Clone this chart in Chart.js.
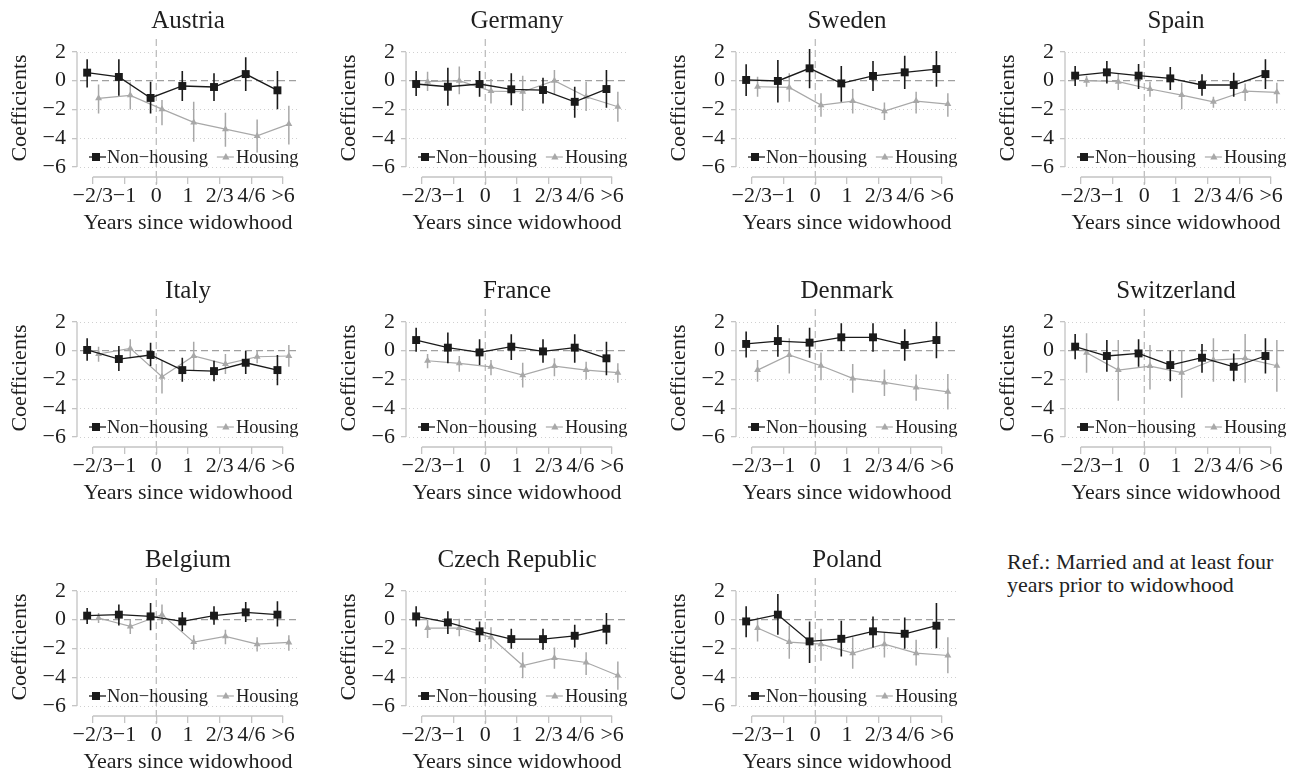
<!DOCTYPE html>
<html>
<head>
<meta charset="utf-8">
<title>Widowhood coefficients by country</title>
<script src="https://cdn.jsdelivr.net/npm/chart.js@4/dist/chart.umd.min.js"></script>
<style>
  html, body { margin: 0; padding: 0; background: #fff; }
  body { width: 1297px; height: 773px; position: relative; overflow: hidden; font-family: "Liberation Serif", "Times New Roman", serif; }
  .panel { position: absolute; width: 329px; height: 234px; }
  .note { position: absolute; left: 1007px; top: 550px; font-size: 22px; line-height: 23px; color: #222; }
</style>
</head>
<body>
<div id="panels"></div>
<div class="note">Ref.: Married and at least four<br>years prior to widowhood</div>
<script>
var countries = ["Austria", "Germany", "Sweden", "Spain", "Italy", "France", "Denmark", "Switzerland", "Belgium", "Czech Republic", "Poland"];
var xLabels = ["\u22122/3", "\u22121", "0", "1", "2/3", "4/6", ">6"];
var yTicks = [2, 0, -2, -4, -6];
var seriesNames = ["Non\u2212housing", "Housing"];

// point estimates, one row per country (same order as countries)
var nonHousing = [
  [0.56, 0.26, -1.2, -0.37, -0.44, 0.46, -0.67],
  [-0.23, -0.42, -0.23, -0.6, -0.65, -1.47, -0.58],
  [0.05, -0.02, 0.86, -0.19, 0.33, 0.58, 0.81],
  [0.35, 0.58, 0.35, 0.16, -0.3, -0.3, 0.46],
  [0.05, -0.58, -0.3, -1.35, -1.42, -0.84, -1.35],
  [0.74, 0.21, -0.12, 0.28, -0.05, 0.21, -0.53],
  [0.47, 0.67, 0.56, 0.93, 0.93, 0.4, 0.74],
  [0.28, -0.37, -0.19, -1.0, -0.49, -1.12, -0.37],
  [0.28, 0.35, 0.23, -0.12, 0.28, 0.51, 0.35],
  [0.23, -0.19, -0.81, -1.35, -1.35, -1.12, -0.63],
  [-0.12, 0.35, -1.51, -1.33, -0.81, -0.98, -0.42]
];
var nonHousingLow = [
  [-0.47, -1.05, -2.28, -1.42, -1.42, -0.72, -1.98],
  [-1.07, -1.74, -1.12, -1.7, -1.58, -2.58, -1.88],
  [-1.07, -1.51, -0.53, -1.47, -0.72, -0.58, -0.42],
  [-0.37, -0.19, -0.58, -0.65, -1.05, -1.12, -0.58],
  [-0.7, -1.42, -1.07, -2.16, -2.12, -1.63, -2.4],
  [-0.07, -0.88, -1.0, -0.65, -0.84, -0.84, -1.7],
  [-0.47, -0.42, -0.49, -0.02, -0.07, -0.7, -0.53],
  [-0.6, -1.47, -1.12, -2.12, -1.53, -2.12, -1.58],
  [-0.3, -0.4, -0.74, -0.81, -0.35, -0.16, -0.47],
  [-0.47, -1.0, -1.56, -2.02, -2.09, -1.93, -1.7],
  [-1.23, -1.05, -3.02, -2.56, -1.93, -2.02, -1.98]
];
var nonHousingHigh = [
  [1.5, 1.5, -0.07, 0.67, 0.51, 1.63, 0.67],
  [0.67, 0.9, 0.67, 0.51, 0.2, -0.42, 0.74],
  [1.14, 1.44, 2.2, 1.02, 1.37, 1.74, 2.07],
  [1.02, 1.37, 1.16, 0.95, 0.44, 0.56, 1.49],
  [0.86, 0.33, 0.56, -0.49, -0.7, -0.02, -0.3],
  [1.6, 1.26, 0.79, 1.14, 0.79, 1.14, 0.63],
  [1.33, 1.79, 1.6, 1.91, 1.91, 1.49, 2.02],
  [1.16, 0.74, 0.79, 0.0, 0.47, -0.19, 0.86],
  [0.81, 1.05, 1.16, 0.53, 0.93, 1.23, 1.28],
  [0.93, 0.58, -0.12, -0.63, -0.63, -0.35, 0.47],
  [0.93, 1.79, -0.12, -0.07, 0.23, 0.16, 1.16]
];
var housing = [
  [-1.23, -1.02, -1.98, -2.9, -3.37, -3.84, -3.02],
  [-0.07, 0.0, -0.72, -0.77, 0.0, -1.12, -1.81],
  [-0.42, -0.47, -1.7, -1.42, -2.12, -1.42, -1.63],
  [0.0, -0.07, -0.58, -1.0, -1.47, -0.72, -0.81],
  [-0.23, 0.16, -1.81, -0.37, -0.93, -0.42, -0.37],
  [-0.7, -0.88, -1.12, -1.7, -1.07, -1.35, -1.53],
  [-1.35, -0.3, -1.05, -1.93, -2.21, -2.56, -2.86],
  [-0.14, -1.35, -1.07, -1.53, -0.65, -0.53, -1.05],
  [0.12, -0.47, 0.35, -1.56, -1.16, -1.7, -1.58],
  [-0.58, -0.58, -1.23, -3.19, -2.67, -2.98, -3.88],
  [-0.58, -1.56, -1.7, -2.33, -1.7, -2.33, -2.49]
];
var housingLow = [
  [-2.28, -2.0, -3.1, -4.25, -4.6, -5.0, -4.44],
  [-0.72, -0.95, -1.58, -2.1, -1.0, -2.1, -2.86],
  [-1.12, -1.47, -2.51, -2.28, -2.74, -2.28, -2.51],
  [-0.42, -0.65, -1.12, -1.98, -1.88, -1.42, -1.58],
  [-0.77, -0.53, -2.98, -1.35, -1.63, -0.88, -1.12],
  [-1.23, -1.47, -1.7, -2.56, -1.77, -2.0, -2.23],
  [-2.16, -1.58, -2.05, -2.93, -3.16, -3.49, -4.09],
  [-1.53, -3.49, -2.7, -3.28, -2.16, -2.23, -2.86],
  [-0.23, -1.0, -0.3, -2.09, -1.7, -2.21, -2.16],
  [-1.28, -1.16, -2.02, -4.07, -3.42, -3.84, -4.88],
  [-1.51, -2.72, -2.86, -3.42, -2.63, -3.19, -3.72]
];
var housingHigh = [
  [-0.26, -0.1, -1.35, -1.47, -2.23, -2.7, -1.74],
  [0.63, 0.98, 0.12, 0.35, 0.74, -0.07, -0.77],
  [0.28, 0.51, -0.88, -0.58, -1.51, -0.77, -0.88],
  [0.35, 0.51, -0.07, -0.14, -1.12, -0.19, -0.14],
  [0.28, 0.79, -0.65, 0.63, -0.23, 0.05, 0.4],
  [-0.23, -0.37, -0.65, -0.84, -0.53, -0.77, -0.88],
  [-0.65, 0.86, -0.12, -0.93, -1.3, -1.65, -1.63],
  [1.21, 0.74, 0.4, 0.05, 0.86, 1.16, 0.74],
  [0.47, 0.0, 1.05, -1.09, -0.7, -1.23, -1.09],
  [0.0, 0.07, -0.53, -2.26, -1.93, -2.26, -2.91],
  [0.16, -0.4, -0.63, -1.23, -0.86, -1.4, -1.23]
];

var fontFamily = "'Liberation Serif', 'Times New Roman', serif";
var ink = "#1e1e1e";
var black = "#1a1a1a";
var grey = "#a8a8a8";
var axisGrey = "#c4c4c4";
var shift = 0.18;

var panelLeft = [0, 329, 659, 988];
var panelTop = [2, 272, 541];

function points(values, offset) {
  return values.map(function (v, i) {
    return { x: i + offset, y: v };
  });
}

// vertical CI segments, broken apart by null points
function whiskers(low, high, offset) {
  var out = [];
  low.forEach(function (lo, i) {
    out.push({ x: i + offset, y: lo });
    out.push({ x: i + offset, y: high[i] });
    out.push({ x: i + offset, y: null });
  });
  return out;
}

function minusSign(v) {
  return String(v).replace("-", "\u2212");
}

// reference lines, dotted grid and stata-like short axes
var backdrop = {
  id: "backdrop",
  beforeDatasetsDraw: function (chart) {
    var ctx = chart.ctx;
    var area = chart.chartArea;
    var xs = chart.scales.x;
    var ys = chart.scales.y;
    ctx.save();

    ctx.strokeStyle = "#d0d0d0";
    ctx.lineWidth = 1;
    ctx.setLineDash([1, 3]);
    yTicks.forEach(function (t) {
      if (t === 0) return;
      var py = Math.round(ys.getPixelForValue(t)) + 0.5;
      ctx.beginPath();
      ctx.moveTo(area.left + 3, py);
      ctx.lineTo(area.right, py);
      ctx.stroke();
    });

    ctx.strokeStyle = "#a0a0a0";
    ctx.lineWidth = 1.2;
    ctx.setLineDash([7, 4]);
    var zy = ys.getPixelForValue(0);
    ctx.beginPath();
    ctx.moveTo(area.left + 3, zy);
    ctx.lineTo(area.right, zy);
    ctx.stroke();

    ctx.strokeStyle = "#b8b8b8";
    var zx = xs.getPixelForValue(xLabels.indexOf("0"));
    ctx.beginPath();
    ctx.moveTo(zx, area.top);
    ctx.lineTo(zx, area.bottom + 8);
    ctx.stroke();

    ctx.setLineDash([]);
    ctx.strokeStyle = axisGrey;
    ctx.lineWidth = 1.3;
    ctx.beginPath();
    ctx.moveTo(area.left, ys.getPixelForValue(yTicks[0]));
    ctx.lineTo(area.left, ys.getPixelForValue(yTicks[yTicks.length - 1]));
    ctx.moveTo(xs.getPixelForValue(0), area.bottom);
    ctx.lineTo(xs.getPixelForValue(xLabels.length - 1), area.bottom);
    ctx.stroke();
    ctx.restore();
  }
};

function drawSquare(ctx, cx, cy) {
  ctx.fillRect(cx - 4, cy - 4, 8, 8);
}

function drawTriangle(ctx, cx, cy) {
  ctx.beginPath();
  ctx.moveTo(cx, cy - 4);
  ctx.lineTo(cx + 3.6, cy + 2.5);
  ctx.lineTo(cx - 3.6, cy + 2.5);
  ctx.closePath();
  ctx.fill();
}

// legend sits inside the plot, near the bottom
var insideLegend = {
  id: "insideLegend",
  afterDatasetsDraw: function (chart) {
    var ctx = chart.ctx;
    var area = chart.chartArea;
    var y = area.bottom - 20;
    var x = area.left + 12;
    ctx.save();
    ctx.font = "18.5px " + fontFamily;
    ctx.textBaseline = "middle";

    ctx.strokeStyle = black;
    ctx.fillStyle = black;
    ctx.lineWidth = 1.3;
    ctx.beginPath();
    ctx.moveTo(x, y);
    ctx.lineTo(x + 17, y);
    ctx.stroke();
    drawSquare(ctx, x + 7, y);
    ctx.fillStyle = ink;
    ctx.fillText(seriesNames[0], x + 18, y + 1);
    x += 18 + ctx.measureText(seriesNames[0]).width + 9;

    ctx.strokeStyle = grey;
    ctx.fillStyle = grey;
    ctx.lineWidth = 1.2;
    ctx.beginPath();
    ctx.moveTo(x, y);
    ctx.lineTo(x + 17, y);
    ctx.stroke();
    drawTriangle(ctx, x + 9, y);
    ctx.fillStyle = ink;
    ctx.fillText(seriesNames[1], x + 19, y + 1);
    ctx.restore();
  }
};

function createPanel(index) {
  var col = index % 4;
  var row = Math.floor(index / 4);
  var holder = document.createElement("div");
  holder.className = "panel";
  holder.style.left = panelLeft[col] + "px";
  holder.style.top = panelTop[row] + "px";
  var canvas = document.createElement("canvas");
  canvas.width = 329;
  canvas.height = 234;
  holder.appendChild(canvas);
  document.getElementById("panels").appendChild(holder);

  new Chart(canvas.getContext("2d"), {
    type: "line",
    data: {
      datasets: [
        {
          data: points(nonHousing[index], -shift),
          borderColor: black,
          backgroundColor: black,
          borderWidth: 1.3,
          pointStyle: "rect",
          pointRadius: 5.6,
          pointBorderWidth: 0
        },
        {
          data: whiskers(nonHousingLow[index], nonHousingHigh[index], -shift),
          borderColor: black,
          borderWidth: 1.6,
          pointRadius: 0,
          spanGaps: false
        },
        {
          data: points(housing[index], shift),
          borderColor: grey,
          backgroundColor: grey,
          borderWidth: 1.2,
          pointStyle: "triangle",
          pointRadius: 4,
          pointBorderWidth: 0
        },
        {
          data: whiskers(housingLow[index], housingHigh[index], shift),
          borderColor: grey,
          borderWidth: 1.5,
          pointRadius: 0,
          spanGaps: false
        }
      ]
    },
    options: {
      responsive: false,
      animation: false,
      layout: { padding: { left: 0, right: 30, top: 0, bottom: 0 } },
      plugins: {
        legend: { display: false },
        tooltip: { enabled: false },
        title: {
          display: true,
          text: countries[index],
          fullSize: false,
          color: ink,
          font: { family: fontFamily, size: 25, weight: "normal" },
          padding: { top: 4, bottom: 3 }
        }
      },
      scales: {
        x: {
          type: "linear",
          min: -0.5,
          max: 6.5,
          afterBuildTicks: function (axis) {
            axis.ticks = xLabels.map(function (l, i) { return { value: i }; });
          },
          afterFit: function (axis) { axis.height = 59; },
          border: { display: false },
          grid: { drawOnChartArea: false, color: axisGrey, lineWidth: 1.3, tickLength: 7 },
          ticks: {
            autoSkip: false,
            maxRotation: 0,
            padding: -1,
            color: ink,
            font: { family: fontFamily, size: 22 },
            callback: function (value) { return xLabels[value]; }
          },
          title: {
            display: true,
            text: "Years since widowhood",
            color: ink,
            font: { family: fontFamily, size: 22, lineHeight: 1.1 },
            padding: { top: 0, bottom: 1 }
          }
        },
        y: {
          type: "linear",
          min: -6.7,
          max: 2.9,
          afterBuildTicks: function (axis) {
            axis.ticks = yTicks.map(function (v) { return { value: v }; });
          },
          afterFit: function (axis) { axis.width = 77; },
          border: { display: false },
          grid: { drawOnChartArea: false, color: axisGrey, lineWidth: 1.3, tickLength: 5 },
          ticks: {
            padding: 6,
            color: ink,
            font: { family: fontFamily, size: 22 },
            callback: function (value) { return minusSign(value); }
          },
          title: {
            display: true,
            text: "Coefficients",
            color: ink,
            font: { family: fontFamily, size: 22 },
            padding: { top: 7, bottom: 0 }
          }
        }
      }
    },
    plugins: [backdrop, insideLegend]
  });
}

countries.forEach(function (name, i) {
  createPanel(i);
});
</script>
</body>
</html>
